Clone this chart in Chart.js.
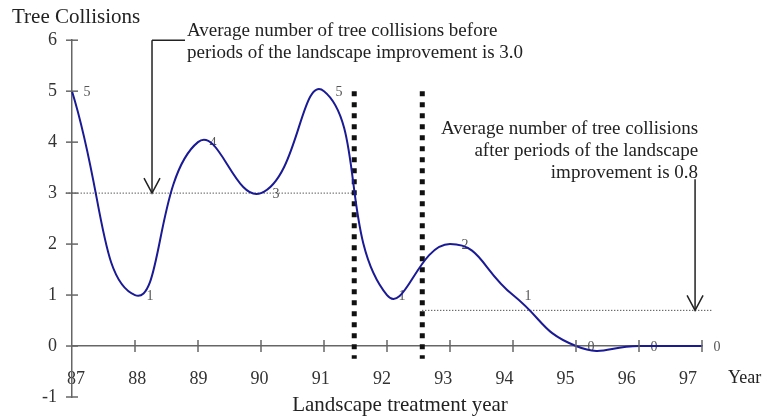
<!DOCTYPE html>
<html>
<head>
<meta charset="utf-8">
<script src="https://cdn.jsdelivr.net/npm/chart.js@4.4.1/dist/chart.umd.min.js"></script>
<style>
  html, body { margin: 0; padding: 0; background: #fff; }
  #wrap { width: 767px; height: 416px; }
</style>
</head>
<body>
<div id="wrap"><canvas id="chart"></canvas></div>
<script>
// data
const years = [87, 88, 89, 90, 91, 92, 93, 94, 95, 96, 97];
const collisions = [5, 1, 4, 3, 5, 1, 2, 1, 0, 0, 0];
const yTicks = [-1, 0, 1, 2, 3, 4, 5, 6];

// landscape improvement period and averages
const periodBounds = [91.48, 92.56];
const periodSpan = [5.0, -0.25];
const avgBefore = 3.0;
const avgAfterLine = 0.7;
const avgAfterEnd = 97.17;
const arrowBefore = [88.27, 6, avgBefore];      // x, from y, to y
const arrowAfter = [96.89, 3.27, avgAfterLine];
const noteBefore = ['Average number of tree collisions before', 'periods of the landscape improvement is 3.0'];
const noteAfter = ['Average number of tree collisions', 'after periods of the landscape', 'improvement is 0.8'];

const SERIF = '"Liberation Serif", "Times New Roman", serif';
Chart.defaults.font.family = SERIF;

const line = (ctx, x1, y1, x2, y2) => {
    ctx.beginPath();
    ctx.moveTo(x1, y1);
    ctx.lineTo(x2, y2);
    ctx.stroke();
};

const annotations = {
    id: 'annotations',
    beforeDatasetsDraw(chart) {
        // value labels next to each point
        const ctx = chart.ctx;
        const meta = chart.getDatasetMeta(0);
        ctx.save();
        ctx.font = '14px ' + SERIF;
        ctx.fillStyle = '#555';
        ctx.textAlign = 'center';
        ctx.textBaseline = 'middle';
        meta.data.forEach((pt, i) => ctx.fillText(String(collisions[i]), pt.x + 15, pt.y + 1));
        ctx.restore();
    },
    afterDraw(chart) {
        const ctx = chart.ctx;
        const xs = chart.scales.x;
        const ys = chart.scales.y;
        const y0 = ys.getPixelForValue(0);
        ctx.save();

        // tick marks crossing the axes
        ctx.strokeStyle = '#666';
        ctx.lineWidth = 1.5;
        yTicks.forEach(v => {
            const py = ys.getPixelForValue(v);
            line(ctx, xs.left - 6, py, xs.left + 6, py);
        });
        years.slice(1).forEach(v => {
            const px = xs.getPixelForValue(v);
            line(ctx, px, y0 - 6, px, y0 + 6);
        });

        // arrows
        ctx.strokeStyle = '#222';
        ctx.lineWidth = 1.5;
        const drawArrow = (a) => {
            const px = xs.getPixelForValue(a[0]);
            const p1 = ys.getPixelForValue(a[1]);
            const p2 = ys.getPixelForValue(a[2]);
            line(ctx, px, p1, px, p2);
            ctx.beginPath();
            ctx.moveTo(px - 8, p2 - 15);
            ctx.lineTo(px, p2);
            ctx.lineTo(px + 8, p2 - 15);
            ctx.stroke();
            return [px, p1];
        };
        const [bx, by] = drawArrow(arrowBefore);
        line(ctx, bx, by, bx + 33, by);
        const [ax, ay] = drawArrow(arrowAfter);

        // texts
        ctx.fillStyle = '#222';
        ctx.font = '19px ' + SERIF;
        ctx.textBaseline = 'middle';
        ctx.textAlign = 'left';
        noteBefore.forEach((t, i) => ctx.fillText(t, bx + 35, by - 9 + i * 22));
        ctx.textAlign = 'right';
        noteAfter.forEach((t, i) => ctx.fillText(t, ax + 3, ay - 50 + i * 22));
        ctx.textAlign = 'left';
        ctx.font = '18px ' + SERIF;
        ctx.fillText('Year', xs.right + 26, y0 + 32);
        ctx.font = '21px ' + SERIF;
        ctx.textAlign = 'center';
        ctx.fillText('Landscape treatment year', (xs.left + xs.right) / 2 + 13, ys.bottom + 8);
        ctx.restore();
    }
};

const points = years.map((yr, i) => ({ x: yr, y: collisions[i] }));

const dotted = (data, width, dash) => ({
    data: data,
    xAxisID: 'x',
    yAxisID: 'y',
    borderColor: '#111',
    borderWidth: width,
    borderDash: dash,
    pointRadius: 0,
    tension: 0,
    clip: false
});

new Chart(document.getElementById('chart'), {
    type: 'line',
    data: {
        datasets: [
            {
                data: points,
                xAxisID: 'x',
                yAxisID: 'y',
                borderColor: '#1a1a96',
                borderWidth: 2,
                tension: 0.5,
                pointRadius: 0,
                clip: false
            },
            dotted([{ x: periodBounds[0], y: periodSpan[0] }, { x: periodBounds[0], y: periodSpan[1] }], 5, [5, 6]),
            dotted([{ x: periodBounds[1], y: periodSpan[0] }, { x: periodBounds[1], y: periodSpan[1] }], 5, [5, 6]),
            dotted([{ x: 86.9, y: avgBefore }, { x: periodBounds[0], y: avgBefore }], 1, [1, 2]),
            dotted([{ x: periodBounds[1], y: avgAfterLine }, { x: avgAfterEnd, y: avgAfterLine }], 1, [1, 2])
        ]
    },
    options: {
        responsive: true,
        maintainAspectRatio: false,
        animation: false,
        layout: { padding: { left: 12, right: 65, top: 0, bottom: 19 } },
        plugins: {
            legend: { display: false },
            tooltip: { enabled: false },
            title: {
                display: true,
                text: 'Tree Collisions',
                align: 'start',
                color: '#222',
                font: { size: 21, weight: 'normal' },
                padding: { top: 5, bottom: 10 }
            }
        },
        scales: {
            x: {
                type: 'linear',
                axis: 'x',
                position: { y: 0 },
                min: 87,
                max: 97,
                ticks: { display: false },
                grid: { display: false, drawTicks: false },
                border: { color: '#666', width: 1.5 }
            },
            xl: {
                type: 'linear',
                axis: 'x',
                position: { y: 0 },
                min: 86.935,
                max: 97.229,
                afterBuildTicks: s => { s.ticks = years.map(v => ({ value: v })); },
                ticks: { color: '#333', font: { size: 18 }, padding: 22, autoSkip: false, maxRotation: 0 },
                grid: { display: false, drawTicks: false },
                border: { display: false }
            },
            y: {
                type: 'linear',
                position: 'left',
                min: -1,
                max: 6,
                afterBuildTicks: s => { s.ticks = yTicks.map(v => ({ value: v })); },
                afterFit: s => {
                    s.width = 60;
                    s.paddingTop = 0;
                    s.paddingBottom = 0;
                },
                ticks: { color: '#333', font: { size: 18 }, padding: 15 },
                grid: { display: false, drawTicks: false },
                border: { color: '#666', width: 1.5 }
            }
        }
    },
    plugins: [annotations]
});
</script>
</body>
</html>
